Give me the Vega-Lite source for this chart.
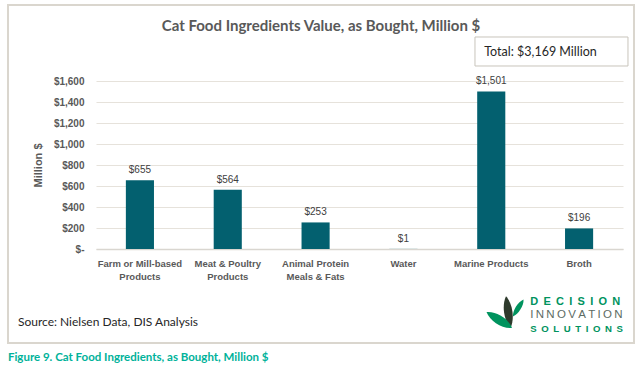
{
  "$schema": "https://vega.github.io/schema/vega-lite/v6.json",
  "width": 527,
  "height": 168,
  "autosize": "none",
  "padding": {"left": 96, "top": 81, "right": 20, "bottom": 128},
  "background": "white",
  "config": {"view": {"stroke": null}, "font": "Liberation Sans"},
  "datasets": {
    "bars": [
      {"category": "Farm or Mill-based Products", "value": 655},
      {"category": "Meat & Poultry Products", "value": 564},
      {"category": "Animal Protein Meals & Fats", "value": 253},
      {"category": "Water", "value": 1},
      {"category": "Marine Products", "value": 1501},
      {"category": "Broth", "value": 196}
    ],
    "one": [{"n": 1}]
  },
  "layer": [
    {"data": {"name": "bars"},
     "mark": {"type": "bar", "color": "#03606F"},
     "encoding": {
      "x": {"field": "category", "type": "nominal",
        "scale": {"domain": ["Farm or Mill-based Products", "Meat & Poultry Products", "Animal Protein Meals & Fats", "Water", "Marine Products", "Broth"], "paddingInner": 0.68, "paddingOuter": 0.34},
        "axis": {"title": null, "labelAngle": 0, "ticks": false, "domainColor": "#D9D6D0", "domainWidth": 1.5,
          "labelColor": "#595959", "labelFont": "Liberation Sans", "labelFontWeight": "bold", "labelFontSize": 9.5, "labelPadding": 9, "labelLineHeight": 13,
          "labelExpr": "datum.value == 'Farm or Mill-based Products' ? ['Farm or Mill-based', 'Products'] : datum.value == 'Meat & Poultry Products' ? ['Meat & Poultry', 'Products'] : datum.value == 'Animal Protein Meals & Fats' ? ['Animal Protein', 'Meals & Fats'] : datum.value"}
      },
      "y": {"field": "value", "type": "quantitative",
        "scale": {"domain": [0, 1600], "nice": false},
        "axis": {"title": "Million $", "titleColor": "#595959", "titleFontSize": 11, "titleFontWeight": "bold", "titlePadding": 10,
          "values": [0, 200, 400, 600, 800, 1000, 1200, 1400, 1600],
          "tickCount": 9,
          "labelOverlap": false,
          "labelExpr": "datum.value == 0 ? '$-' : '$' + format(datum.value, ',')",
          "labelColor": "#595959", "labelFontSize": 10, "labelFontWeight": "bold", "labelPadding": 12,
          "ticks": false, "domain": false, "gridColor": "#E6E2DB", "gridWidth": 1.2}
      }
     }},
    {"data": {"name": "bars"},
     "mark": {"type": "text", "dy": -10, "fontSize": 10, "color": "#404040"},
     "encoding": {
      "x": {"field": "category", "type": "nominal"},
      "y": {"field": "value", "type": "quantitative"},
      "text": {"field": "value", "type": "quantitative", "format": "$,.0f"}}},
    {"data": {"name": "one"},
     "mark": {"type": "point", "shape": "M-1,-0.54L1,-0.54L1,0.54L-1,0.54Z", "size": 391876, "filled": false, "stroke": "#DAD6CE", "strokeWidth": 2, "opacity": 1, "xOffset": 5.4},
     "encoding": {"x": {"datum": "Animal Protein Meals & Fats", "type": "nominal"}, "y": {"datum": 714, "type": "quantitative"}}},
    {"data": {"name": "one"},
     "mark": {"type": "text", "text": "Cat Food Ingredients Value, as Bought, Million $", "font": "Lato", "fontSize": 15, "fontWeight": "bold", "color": "#595959", "align": "center", "baseline": "middle", "dx": 5.4},
     "encoding": {"x": {"datum": "Animal Protein Meals & Fats", "type": "nominal"}, "y": {"datum": 2120, "type": "quantitative"}}},
    {"data": {"name": "one"},
     "mark": {"type": "point", "shape": "M-1,-0.1895L1,-0.1895L1,0.1895L-1,0.1895Z", "size": 23409, "filled": false, "stroke": "#C8C4BC", "strokeWidth": 1, "opacity": 1, "xOffset": -27.6},
     "encoding": {"x": {"datum": "Broth", "type": "nominal"}, "y": {"datum": 1881, "type": "quantitative"}}},
    {"data": {"name": "one"},
     "mark": {"type": "text", "text": "Total: $3,169 Million", "font": "Lato", "fontSize": 12.5, "color": "#262626", "align": "left", "baseline": "middle", "dx": -7},
     "encoding": {"x": {"datum": "Marine Products", "type": "nominal"}, "y": {"datum": 1876, "type": "quantitative"}}},
    {"data": {"name": "one"},
     "mark": {"type": "text", "text": "Source: Nielsen Data, DIS Analysis", "font": "Lato", "fontSize": 12, "color": "#262626", "align": "left", "baseline": "middle", "dx": -122},
     "encoding": {"x": {"datum": "Farm or Mill-based Products", "type": "nominal"}, "y": {"datum": -695, "type": "quantitative"}}},
    {"data": {"name": "one"},
     "mark": {"type": "text", "text": "Figure 9. Cat Food Ingredients, as Bought, Million $", "font": "Lato", "fontSize": 11.5, "fontWeight": "bold", "color": "#00B29A", "align": "left", "baseline": "middle", "dx": -132},
     "encoding": {"x": {"datum": "Farm or Mill-based Products", "type": "nominal"}, "y": {"datum": -1038, "type": "quantitative"}}},
    {"data": {"name": "one"},
     "mark": {"type": "point", "shape": "M0,-1C0.35,-0.5 0.35,0.5 0,1C-0.35,0.5 -0.35,-0.5 0,-1Z", "size": 1024, "filled": true, "color": "#2E3A2C", "opacity": 1, "angle": -8, "xOffset": 17},
     "encoding": {"x": {"datum": "Marine Products", "type": "nominal"}, "y": {"datum": -600, "type": "quantitative"}}},
    {"data": {"name": "one"},
     "mark": {"type": "point", "shape": "M0,-1C0.4,-0.5 0.4,0.5 0,1C-0.4,0.5 -0.4,-0.5 0,-1Z", "size": 900, "filled": true, "color": "#00935E", "opacity": 1, "angle": -58, "xOffset": 8},
     "encoding": {"x": {"datum": "Marine Products", "type": "nominal"}, "y": {"datum": -676, "type": "quantitative"}}},
    {"data": {"name": "one"},
     "mark": {"type": "point", "shape": "M0,-1C0.35,-0.5 0.35,0.5 0,1C-0.35,0.5 -0.35,-0.5 0,-1Z", "size": 400, "filled": true, "color": "#00935E", "opacity": 1, "angle": 32, "xOffset": 27},
     "encoding": {"x": {"datum": "Marine Products", "type": "nominal"}, "y": {"datum": -562, "type": "quantitative"}}},
    {"data": {"name": "one"},
     "mark": {"type": "text", "text": "D\u00a0\u2009E\u00a0\u2009C\u00a0\u2009I\u00a0\u2009S\u00a0\u2009I\u00a0\u2009O\u00a0\u2009N", "fontSize": 11, "fontWeight": "bold", "color": "#00935E", "align": "left", "baseline": "middle", "dx": 39},
     "encoding": {"x": {"datum": "Marine Products", "type": "nominal"}, "y": {"datum": -505, "type": "quantitative"}}},
    {"data": {"name": "one"},
     "mark": {"type": "text", "text": "I\u2009N\u2009N\u2009O\u2009V\u2009A\u2009T\u2009I\u2009O\u2009N", "fontSize": 11.5, "color": "#5C6B63", "align": "left", "baseline": "middle", "dx": 39},
     "encoding": {"x": {"datum": "Marine Products", "type": "nominal"}, "y": {"datum": -629, "type": "quantitative"}}},
    {"data": {"name": "one"},
     "mark": {"type": "text", "text": "S\u00a0\u2009O\u00a0\u2009L\u00a0\u2009U\u00a0\u2009T\u00a0\u2009I\u00a0\u2009O\u00a0\u2009N\u00a0\u2009S", "fontSize": 9.6, "fontWeight": "bold", "color": "#00935E", "align": "left", "baseline": "middle", "dx": 39},
     "encoding": {"x": {"datum": "Marine Products", "type": "nominal"}, "y": {"datum": -762, "type": "quantitative"}}}
  ]
}
